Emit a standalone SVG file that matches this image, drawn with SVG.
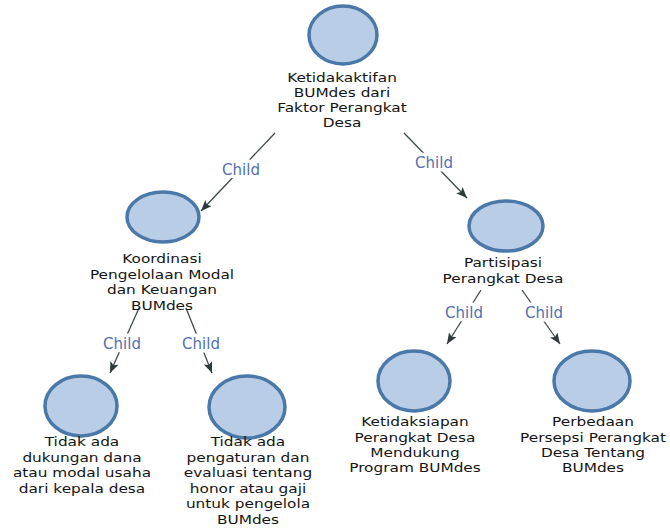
<svg xmlns="http://www.w3.org/2000/svg" width="670" height="528" viewBox="0 0 670 528">
<style>
.node ellipse{fill:#bacde6;stroke:#4a78a8;stroke-width:3.5}
.node text{font-family:"DejaVu Sans",sans-serif;font-size:13px;fill:#151515;text-anchor:middle}
.edge line{stroke:#3e4a4a;stroke-width:1.3}
.lbl{font-family:"DejaVu Sans",sans-serif;font-size:15px;fill:#5470b0;text-anchor:middle;stroke:#fff;stroke-width:7;paint-order:stroke;stroke-linejoin:round}
</style>
<defs>
<marker id="arr" markerUnits="userSpaceOnUse" markerWidth="12" markerHeight="10" refX="11" refY="4.5" orient="auto">
<path d="M0,0 L11,4.5 L0,9 L2.5,4.5 z" fill="#2f3b3b"/>
</marker>
</defs>
<rect width="670" height="528" fill="#fff"/>
<g id="connectors" class="edge">
<line x1="275" y1="133" x2="201" y2="211" marker-end="url(#arr)"/>
<line x1="404" y1="133" x2="467" y2="198" marker-end="url(#arr)"/>
<line x1="139" y1="308" x2="110" y2="373" marker-end="url(#arr)"/>
<line x1="186" y1="308" x2="212" y2="373" marker-end="url(#arr)"/>
<line x1="481" y1="290" x2="447" y2="344" marker-end="url(#arr)"/>
<line x1="522" y1="290" x2="560" y2="344" marker-end="url(#arr)"/>
<text class="lbl" x="241" y="175">Child</text>
<text class="lbl" x="434" y="168">Child</text>
<text class="lbl" x="122" y="349">Child</text>
<text class="lbl" x="201" y="349">Child</text>
<text class="lbl" x="464" y="318">Child</text>
<text class="lbl" x="544" y="318">Child</text>
</g>
<g id="root" class="node">
<ellipse cx="343" cy="35" rx="34" ry="29"/>
<g transform="translate(-61.56,0) scale(1.18,1)">
<text x="342" y="82.5">Ketidakaktifan</text>
<text x="342" y="97.5">BUMdes dari</text>
<text x="342" y="112.5">Faktor Perangkat</text>
<text x="342" y="127.5">Desa</text>
</g>
</g>
<g id="koordinasi" class="node">
<ellipse cx="163" cy="217" rx="36" ry="25"/>
<g transform="translate(-29.16,0) scale(1.18,1)">
<text x="162" y="263.5">Koordinasi</text>
<text x="162" y="279">Pengelolaan Modal</text>
<text x="162" y="294.5">dan Keuangan</text>
<text x="162" y="310">BUMdes</text>
</g>
</g>
<g id="partisipasi" class="node">
<ellipse cx="506" cy="226" rx="37" ry="25"/>
<g transform="translate(-90.54,0) scale(1.18,1)">
<text x="503" y="267.5">Partisipasi</text>
<text x="503" y="283">Perangkat Desa</text>
</g>
</g>
<g id="dukungan" class="node">
<ellipse cx="81" cy="406" rx="36" ry="30"/>
<g transform="translate(-14.76,0) scale(1.18,1)">
<text x="82" y="446.5">Tidak ada</text>
<text x="82" y="462">dukungan dana</text>
<text x="82" y="477.5">atau modal usaha</text>
<text x="82" y="493">dari kepala desa</text>
</g>
</g>
<g id="pengaturan" class="node">
<ellipse cx="247" cy="407" rx="38" ry="31"/>
<g transform="translate(-44.64,0) scale(1.18,1)">
<text x="248" y="446.5">Tidak ada</text>
<text x="248" y="462">pengaturan dan</text>
<text x="248" y="477.5">evaluasi tentang</text>
<text x="248" y="493">honor atau gaji</text>
<text x="248" y="508.5">untuk pengelola</text>
<text x="248" y="524">BUMdes</text>
</g>
</g>
<g id="ketidaksiapan" class="node">
<ellipse cx="414" cy="381" rx="36" ry="30"/>
<g transform="translate(-74.7,0) scale(1.18,1)">
<text x="415" y="426.5">Ketidaksiapan</text>
<text x="415" y="442">Perangkat Desa</text>
<text x="415" y="457">Mendukung</text>
<text x="415" y="472">Program BUMdes</text>
</g>
</g>
<g id="perbedaan" class="node">
<ellipse cx="592" cy="381" rx="38" ry="30"/>
<g transform="translate(-106.74,0) scale(1.18,1)">
<text x="593" y="426.5">Perbedaan</text>
<text x="593" y="442">Persepsi Perangkat</text>
<text x="593" y="457">Desa Tentang</text>
<text x="593" y="472">BUMdes</text>
</g>
</g>
</svg>
